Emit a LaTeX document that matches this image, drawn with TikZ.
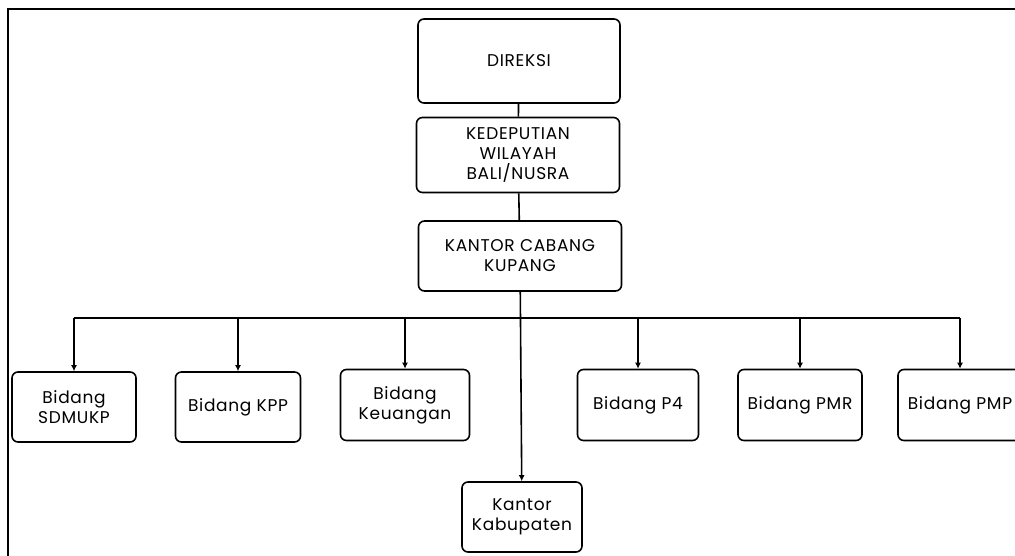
\documentclass[tikz,border=0pt]{standalone}
\usepackage{fontspec}
\setmainfont{Poppins}[LetterSpace=4]
\usepackage{tikz}
\usetikzlibrary{positioning,arrows.meta}
\tikzset{
unit/.style={
draw,
line width=1.6pt,
rounded corners=6pt,
align=center,
inner sep=0pt,
font=\fontsize{17}{20}\selectfont
},
arrow/.style={
-{Latex[length=6pt,width=6pt]},
line width=1.6pt
},
link/.style={
line width=1.6pt
}
}

\begin{document}
\begin{tikzpicture}[x=1pt,y=-1pt]

\useasboundingbox (0,0) rectangle (1015,556);
\clip (0,0) rectangle (1015,556);

% frame
\draw[line width=2pt] (8,560) -- (8,9) -- (1020,9);

\node[unit,minimum width=202pt,minimum height=84pt] (dir) at (519,61) {DIREKSI};

\node[unit,minimum width=203pt,minimum height=75pt] (dep) at (518,155) {KEDEPUTIAN\\WILAYAH\\BALI/NUSRA};

\node[unit,minimum width=203pt,minimum height=70pt] (kcb) at (520,256) {KANTOR CABANG\\KUPANG};

\node[unit,minimum width=124pt,minimum height=70pt] (sdm) at (74,407) {Bidang\\SDMUKP};
\node[unit,minimum width=125pt,minimum height=70pt] (kpp) at (238,407) {Bidang KPP};
\node[unit,minimum width=129pt,minimum height=71pt] (keu) at (405,405) {Bidang\\Keuangan};
\node[unit,minimum width=120pt,minimum height=70pt] (kab) at (522,517) {Kantor\\Kabupaten};
\node[unit,minimum width=121pt,minimum height=71pt] (p4) at (638,405) {Bidang P4};
\node[unit,minimum width=124pt,minimum height=71pt] (pmr) at (800,405) {Bidang PMR};
\node[unit,minimum width=124pt,minimum height=71pt] (pmp) at (960,405) {Bidang PMP};

\coordinate (bus) at (0,318);

\draw[link](dir)--(dep);
\draw[link](dep)--(kcb);
\draw[link](sdm.north|-bus)--(pmp.north|-bus);
\draw[arrow](kcb)--(kab);

\foreach \x in {sdm,kpp,keu,p4,pmr,pmp}
\draw[arrow](\x.north|-bus)--(\x);

\end{tikzpicture}
\end{document}
